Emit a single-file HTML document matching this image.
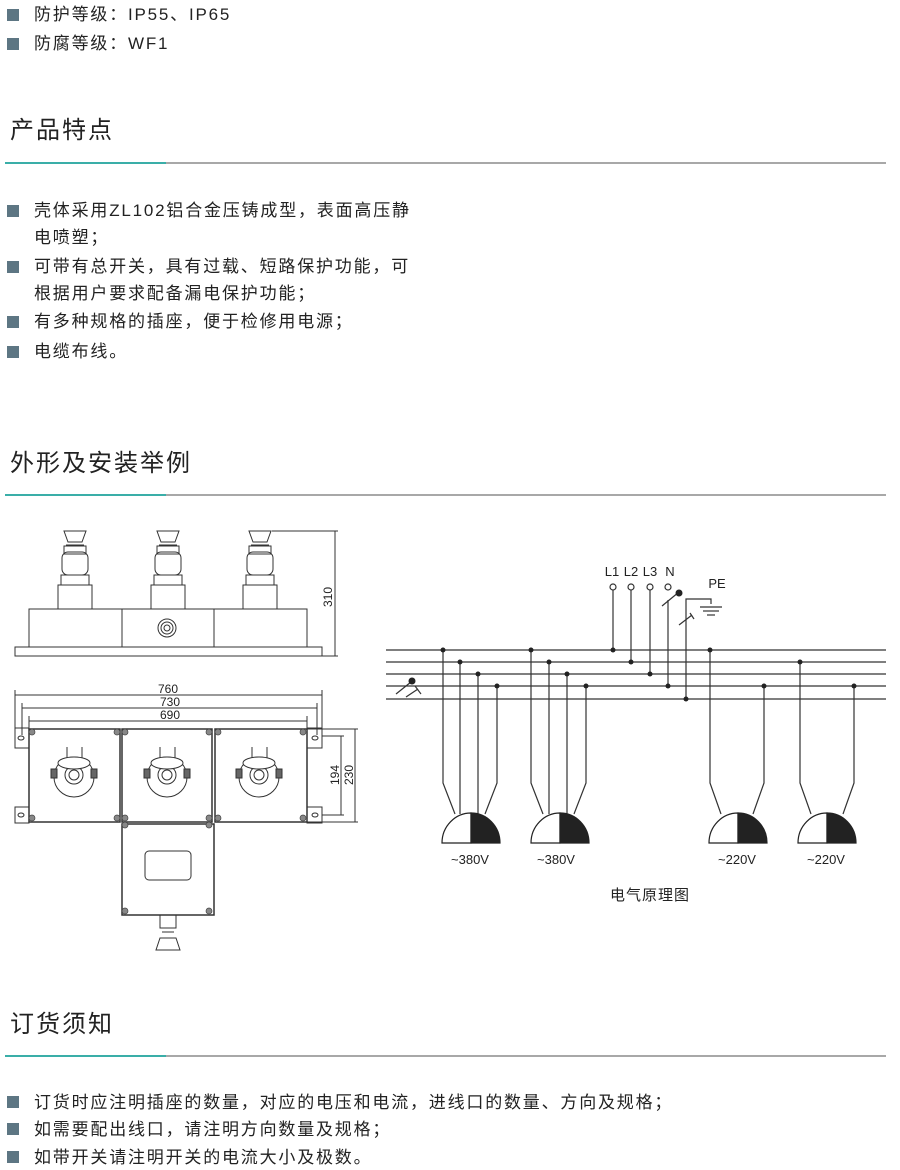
<!DOCTYPE html>
<html><head><meta charset="utf-8"><style>
body{margin:0;width:900px;height:1170px;background:#fff;position:relative;overflow:hidden;font-family:"Liberation Sans","Noto Sans CJK SC",sans-serif;color:#222}
.b{position:absolute;left:7px;width:12px;height:12px;background:#5d7683}
.t{position:absolute;left:34px;font-size:17px;line-height:20px;white-space:nowrap;letter-spacing:1.8px}
.h{position:absolute;left:10px;font-size:24px;line-height:28px;color:#222;letter-spacing:2px}
.l{position:absolute;left:5px;width:881px;height:2px;background:#a8a8a8}
.l:before{content:"";position:absolute;left:0;top:0;width:161px;height:2px;background:#3aaea8}
</style></head><body>
<div class="b" style="top:9px"></div><div class="t" style="top:5px">防护等级：IP55、IP65</div>
<div class="b" style="top:38px"></div><div class="t" style="top:34px">防腐等级：WF1</div>
<div class="h" style="top:117px">产品特点</div><div class="l" style="top:162px"></div>
<div class="b" style="top:205px"></div><div class="t" style="top:201px">壳体采用ZL102铝合金压铸成型，表面高压静</div>
<div class="t" style="top:228px">电喷塑；</div>
<div class="b" style="top:261px"></div><div class="t" style="top:257px">可带有总开关，具有过载、短路保护功能，可</div>
<div class="t" style="top:284px">根据用户要求配备漏电保护功能；</div>
<div class="b" style="top:316px"></div><div class="t" style="top:312px">有多种规格的插座，便于检修用电源；</div>
<div class="b" style="top:346px"></div><div class="t" style="top:342px">电缆布线。</div>
<div class="h" style="top:450px">外形及安装举例</div><div class="l" style="top:494px"></div>
<div class="h" style="top:1011px">订货须知</div><div class="l" style="top:1055px"></div>
<div class="b" style="top:1096px"></div><div class="t" style="top:1093px">订货时应注明插座的数量，对应的电压和电流，进线口的数量、方向及规格；</div>
<div class="b" style="top:1123px"></div><div class="t" style="top:1120px">如需要配出线口，请注明方向数量及规格；</div>
<div class="b" style="top:1151px"></div><div class="t" style="top:1148px">如带开关请注明开关的电流大小及极数。</div>

<svg width="900" height="1170" style="position:absolute;left:0;top:0" font-family="Liberation Sans, sans-serif">
<g fill="none" stroke="#333" stroke-width="1">
<rect x="15" y="647" width="307" height="9"/>
<rect x="29" y="609" width="278" height="38"/>
<line x1="122" y1="609" x2="122" y2="647"/><line x1="214" y1="609" x2="214" y2="647"/>
<circle cx="167" cy="628" r="9"/><circle cx="167" cy="628" r="6"/><circle cx="167" cy="628" r="3"/>
<g id="sk">
<rect x="58" y="585" width="34" height="24"/>
<path d="M61 585 L61 575 L89 575 L89 585"/>
<rect x="62" y="552" width="26" height="23" rx="6"/>
<rect x="64" y="546" width="22" height="8"/>
<path d="M64 531 L86 531 L82 542 L68 542 Z"/>
<line x1="66" y1="545" x2="84" y2="545"/>
</g>
<use href="#sk" x="93"/><use href="#sk" x="185"/>
<line x1="272" y1="531" x2="338" y2="531"/><line x1="322" y1="656" x2="338" y2="656"/>
<line x1="335" y1="531" x2="335" y2="656"/>
<line x1="15" y1="695" x2="322" y2="695"/><line x1="22" y1="708" x2="317" y2="708"/><line x1="29" y1="721" x2="307" y2="721"/>
<line x1="15" y1="690" x2="15" y2="729"/><line x1="322" y1="690" x2="322" y2="729"/>
<line x1="22" y1="703" x2="22" y2="735"/><line x1="317" y1="703" x2="317" y2="735"/>
<line x1="29" y1="716" x2="29" y2="729"/><line x1="307" y1="716" x2="307" y2="729"/>
<line x1="322" y1="736" x2="344" y2="736"/><line x1="322" y1="815" x2="344" y2="815"/>
<line x1="341" y1="736" x2="341" y2="815"/>
<line x1="307" y1="729" x2="358" y2="729"/><line x1="307" y1="822" x2="358" y2="822"/>
<line x1="355" y1="729" x2="355" y2="822"/>
<rect x="15" y="728" width="14" height="20"/><rect x="15" y="807" width="14" height="16"/>
<rect x="307" y="728" width="15" height="20"/><rect x="307" y="807" width="15" height="16"/>
<ellipse cx="21" cy="738" rx="3" ry="2"/><ellipse cx="21" cy="815" rx="3" ry="2"/>
<ellipse cx="315" cy="738" rx="3" ry="2"/><ellipse cx="315" cy="815" rx="3" ry="2"/>
<rect x="29" y="729" width="91" height="93" stroke-width="1.5"/>
<rect x="122" y="729" width="90" height="93" stroke-width="1.5"/>
<rect x="215" y="729" width="92" height="93" stroke-width="1.5"/>
<rect x="122" y="824" width="92" height="91" stroke-width="1.5"/>
<rect x="145" y="851" width="46" height="29" rx="4"/>
<g id="fs">
<circle cx="74" cy="777" r="20"/><circle cx="74" cy="775" r="9"/><circle cx="74" cy="775" r="5"/>
<ellipse cx="74" cy="763" rx="16" ry="6" fill="#fff"/>
<line x1="67" y1="747" x2="67" y2="758"/><line x1="82" y1="747" x2="82" y2="758"/>
<rect x="51" y="769" width="6" height="9" fill="#666"/><rect x="91" y="769" width="6" height="9" fill="#666"/>
</g>
<use href="#fs" x="93"/><use href="#fs" x="185"/>
<path d="M160 915 L160 928 L176 928 L176 915"/>
<path d="M160 938 L176 938 L180 950 L156 950 Z"/>
<line x1="162" y1="932" x2="174" y2="932"/>
</g>
<g fill="#888" stroke="#444" stroke-width="0.7">
<circle cx="32" cy="732" r="3"/><circle cx="117" cy="732" r="3"/><circle cx="125" cy="732" r="3"/><circle cx="209" cy="732" r="3"/><circle cx="218" cy="732" r="3"/><circle cx="303" cy="732" r="3"/>
<circle cx="32" cy="818" r="3"/><circle cx="117" cy="818" r="3"/><circle cx="125" cy="818" r="3"/><circle cx="209" cy="818" r="3"/><circle cx="218" cy="818" r="3"/><circle cx="303" cy="818" r="3"/>
<circle cx="125" cy="825" r="3"/><circle cx="209" cy="825" r="3"/><circle cx="125" cy="911" r="3"/><circle cx="209" cy="911" r="3"/>
</g>
<g fill="#222" font-size="12" text-anchor="middle">
<text x="168" y="693">760</text><text x="170" y="706">730</text><text x="170" y="719">690</text>
<text transform="translate(332,597) rotate(-90)">310</text>
<text transform="translate(339,775) rotate(-90)">194</text>
<text transform="translate(353,775) rotate(-90)">230</text>
</g>
<g stroke="#333" stroke-width="1.2" fill="none">
<line x1="386" y1="650" x2="886" y2="650"/><line x1="386" y1="662" x2="886" y2="662"/>
<line x1="386" y1="674" x2="886" y2="674"/><line x1="386" y1="686" x2="886" y2="686"/>
<line x1="386" y1="699" x2="886" y2="699"/>
<line x1="396" y1="694" x2="411" y2="682"/><line x1="406" y1="697" x2="418" y2="689"/><line x1="415" y1="686" x2="421" y2="694"/>
<path d="M443 650 V783 L455 814"/><line x1="460" y1="662" x2="460" y2="814"/><line x1="478" y1="674" x2="478" y2="814"/><path d="M497 686 V783 L485 814"/>
<path d="M531 650 V783 L543 814"/><line x1="549" y1="662" x2="549" y2="814"/><line x1="567" y1="674" x2="567" y2="814"/><path d="M586 686 V783 L574 814"/>
<path d="M710 650 V783 L721 814"/><path d="M764 686 V783 L753 814"/>
<path d="M800 662 V783 L811 814"/><path d="M854 686 V783 L843 814"/>
<line x1="613" y1="590" x2="613" y2="650"/><line x1="631" y1="590" x2="631" y2="662"/>
<line x1="650" y1="590" x2="650" y2="674"/><line x1="668" y1="600" x2="668" y2="686"/>
<line x1="662" y1="606" x2="679" y2="592"/>
<path d="M686 699 V599 H711 V604"/>
<line x1="700" y1="607" x2="722" y2="607"/><line x1="703" y1="611" x2="719" y2="611"/><line x1="707" y1="615" x2="715" y2="615"/>
<line x1="679" y1="625" x2="692" y2="615"/><line x1="690" y1="613" x2="694" y2="619"/>
</g>
<g fill="#fff" stroke="#333" stroke-width="1.2">
<circle cx="613" cy="587" r="3"/><circle cx="631" cy="587" r="3"/><circle cx="650" cy="587" r="3"/><circle cx="668" cy="587" r="3"/>
</g>
<g fill="#222">
<circle cx="679" cy="593" r="3.5"/><circle cx="412" cy="681" r="3.5"/>
<circle cx="443" cy="650" r="2.5"/><circle cx="460" cy="662" r="2.5"/><circle cx="478" cy="674" r="2.5"/><circle cx="497" cy="686" r="2.5"/>
<circle cx="531" cy="650" r="2.5"/><circle cx="549" cy="662" r="2.5"/><circle cx="567" cy="674" r="2.5"/><circle cx="586" cy="686" r="2.5"/>
<circle cx="613" cy="650" r="2.5"/><circle cx="631" cy="662" r="2.5"/><circle cx="650" cy="674" r="2.5"/><circle cx="668" cy="686" r="2.5"/><circle cx="686" cy="699" r="2.5"/>
<circle cx="710" cy="650" r="2.5"/><circle cx="764" cy="686" r="2.5"/><circle cx="800" cy="662" r="2.5"/><circle cx="854" cy="686" r="2.5"/>
</g>
<g id="dm" stroke="#222" stroke-width="1.2">
<path d="M442 843 A29 30 0 0 1 471 813 V843 Z" fill="#fff"/>
<path d="M471 813 A29 30 0 0 1 500 843 H471 Z" fill="#222"/>
</g>
<use href="#dm" x="89"/><use href="#dm" x="267"/><use href="#dm" x="356"/>
<g fill="#222" font-size="13" text-anchor="middle">
<text x="612" y="576">L1</text><text x="631" y="576">L2</text><text x="650" y="576">L3</text><text x="670" y="576">N</text>
<text x="717" y="588">PE</text>
<text x="470" y="864">~380V</text><text x="556" y="864">~380V</text><text x="737" y="864">~220V</text><text x="826" y="864">~220V</text>
</g>
<text x="650" y="900" font-size="15" text-anchor="middle" fill="#222" font-family="Liberation Sans, Noto Sans CJK SC, sans-serif" letter-spacing="1">电气原理图</text>
</svg>
</body></html>
